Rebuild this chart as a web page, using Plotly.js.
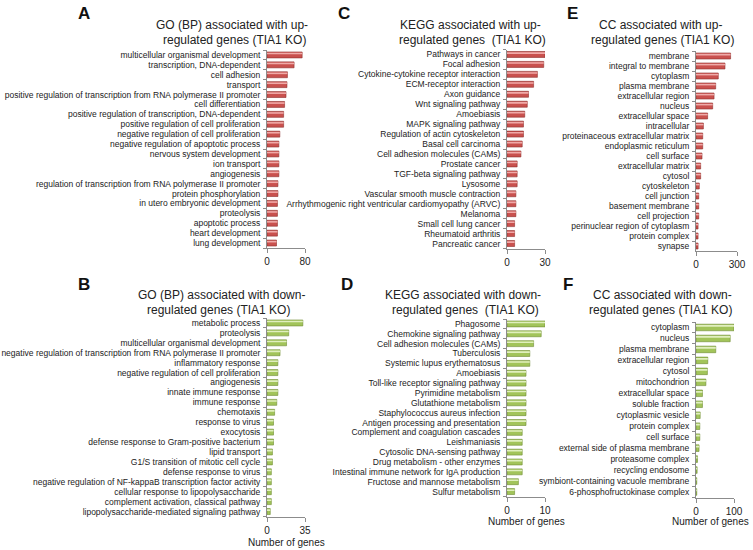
<!DOCTYPE html>
<html>
<head>
<meta charset="utf-8">
<script src="https://cdn.plot.ly/plotly-3.0.1.min.js"></script>
<style>
  html, body { margin: 0; padding: 0; background: #fff; }
  #chart { width: 753px; height: 550px; }
</style>
</head>
<body>
<div id="chart"></div>
<script>
// A: GO (BP) up-regulated
var bpUpTerms = ["multicellular organismal development", "transcription, DNA-dependent", "cell adhesion", "transport",
  "positive regulation of transcription from RNA polymerase II promoter", "cell differentiation",
  "positive regulation of transcription, DNA-dependent", "positive regulation of cell proliferation",
  "negative regulation of cell proliferation", "negative regulation of apoptotic process", "nervous system development",
  "ion transport", "angiogenesis", "regulation of transcription from RNA polymerase II promoter", "protein phosphorylation",
  "in utero embryonic development", "proteolysis", "apoptotic process", "heart development", "lung development"];
var bpUpCounts = [74, 57, 43, 42, 40, 37, 35, 35, 27, 25, 25, 25, 25, 23, 23, 22, 22, 22, 22, 20];

// C: KEGG up-regulated
var keggUpTerms = ["Pathways in cancer", "Focal adhesion", "Cytokine-cytokine receptor interaction", "ECM-receptor interaction",
  "Axon guidance", "Wnt signaling pathway", "Amoebiasis", "MAPK signaling pathway", "Regulation of actin cytoskeleton",
  "Basal cell carcinoma", "Cell adhesion molecules (CAMs)", "Prostate cancer", "TGF-beta signaling pathway", "Lysosome",
  "Vascular smooth muscle contraction", "Arrhythmogenic right ventricular cardiomyopathy (ARVC)", "Melanoma",
  "Small cell lung cancer", "Rheumatoid arthritis", "Pancreatic cancer"];
var keggUpCounts = [30, 29, 24, 21, 17, 16, 14, 13, 13, 12, 11, 8, 8, 8, 7, 7, 7, 6, 6, 6];

// E: CC up-regulated
var ccUpTerms = ["membrane", "integral to membrane", "cytoplasm", "plasma membrane", "extracellular region", "nucleus",
  "extracellular space", "intracellular", "proteinaceous extracellular matrix", "endoplasmic reticulum", "cell surface",
  "extracellular matrix", "cytosol", "cytoskeleton", "cell junction", "basement membrane", "cell projection",
  "perinuclear region of cytoplasm", "protein complex", "synapse"];
var ccUpCounts = [253, 212, 163, 144, 132, 122, 85, 54, 49, 49, 44, 34, 34, 24, 20, 20, 20, 15, 15, 15];

// B: GO (BP) down-regulated
var bpDownTerms = ["metabolic process", "proteolysis", "multicellular organismal development",
  "negative regulation of transcription from RNA polymerase II promoter", "inflammatory response",
  "negative regulation of cell proliferation", "angiogenesis", "innate immune response", "immune response", "chemotaxis",
  "response to virus", "exocytosis", "defense response to Gram-positive bacterium", "lipid transport",
  "G1/S transition of mitotic cell cycle", "defense response to virus",
  "negative regulation of NF-kappaB transcription factor activity", "cellular response to lipopolysaccharide",
  "complement activation, classical pathway", "lipopolysaccharide-mediated signaling pathway"];
var bpDownCounts = [33, 20, 18, 12, 10, 10, 10, 10, 9, 7, 6, 6, 6, 5, 5, 4, 4, 4, 4, 3];

// D: KEGG down-regulated
var keggDownTerms = ["Phagosome", "Chemokine signaling pathway", "Cell adhesion molecules (CAMs)", "Tuberculosis",
  "Systemic lupus erythematosus", "Amoebiasis", "Toll-like receptor signaling pathway", "Pyrimidine metabolism",
  "Glutathione metabolism", "Staphylococcus aureus infection", "Antigen processing and presentation",
  "Complement and coagulation cascades", "Leishmaniasis", "Cytosolic DNA-sensing pathway",
  "Drug metabolism - other enzymes", "Intestinal immune network for IgA production", "Fructose and mannose metabolism",
  "Sulfur metabolism"];
var keggDownCounts = [10, 9, 7, 6, 6, 5, 5, 5, 5, 5, 5, 4, 4, 4, 4, 4, 3, 2];

// F: CC down-regulated
var ccDownTerms = ["cytoplasm", "nucleus", "plasma membrane", "extracellular region", "cytosol", "mitochondrion",
  "extracellular space", "soluble fraction", "cytoplasmic vesicle", "protein complex", "cell surface",
  "external side of plasma membrane", "proteasome complex", "recycling endosome", "symbiont-containing vacuole membrane",
  "6-phosphofructokinase complex"];
var ccDownCounts = [100, 90, 52, 31, 30, 26, 17, 17, 11, 10, 10, 8, 4, 3, 2, 2];

var W = 753, H = 550;
var FONT = "Liberation Sans, Arial, sans-serif";
function px(x) { return x / W; }
function py(y) { return 1 - y / H; }

var red = {main: "#c9514e", light: "#f0aaa8", edge: "#8e2f2c"};
var green = {main: "#a2c45a", light: "#e0efbe", edge: "#6f8b32"};

// panel layout: axis box in pixels
var panels = [
  {terms: bpUpTerms, counts: bpUpCounts, max: 80, col: red, x: [267, 305], y: [50, 248]},
  {terms: keggUpTerms, counts: keggUpCounts, max: 30, col: red, x: [507, 545], y: [49.5, 248.5]},
  {terms: ccUpTerms, counts: ccUpCounts, max: 300, col: red, x: [696, 737], y: [51, 251]},
  {terms: bpDownTerms, counts: bpDownCounts, max: 35, col: green, x: [267, 305], y: [318, 516.5]},
  {terms: keggDownTerms, counts: keggDownCounts, max: 10, col: green, x: [507, 545], y: [319, 496.5]},
  {terms: ccDownTerms, counts: ccDownCounts, max: 100, col: green, x: [696, 734], y: [322, 497.5]}
];

var data = [];
var layout = {
  width: W, height: H,
  margin: {l: 0, r: 0, t: 0, b: 0},
  paper_bgcolor: "#fff", plot_bgcolor: "#fff",
  showlegend: false,
  barmode: "overlay",
  font: {family: FONT, color: "#222"},
  annotations: []
};

panels.forEach(function(p, i) {
  var n = i + 1;
  var xa = "x" + n, ya = "y" + n;
  // main bar
  data.push({
    type: "bar", orientation: "h", x: p.counts, y: p.terms,
    xaxis: xa, yaxis: ya, width: 0.6, offset: -0.3,
    marker: {color: p.col.main, line: {color: p.col.edge, width: 0.6}},
    hoverinfo: "x+y"
  });
  // highlight strip to mimic the shaded 3D bars
  data.push({
    type: "bar", orientation: "h", x: p.counts, y: p.terms,
    xaxis: xa, yaxis: ya, width: 0.16, offset: -0.22,
    marker: {color: p.col.light, line: {width: 0}},
    hoverinfo: "skip"
  });

  layout["xaxis" + (n === 1 ? "" : n)] = {
    domain: [px(p.x[0]), px(p.x[1])], anchor: ya,
    range: [0, p.max], tickmode: "array", tickvals: [0, p.max],
    showline: true, linecolor: "#8c8c8c", linewidth: 1,
    ticks: "outside", ticklen: 4, tickcolor: "#8c8c8c",
    showgrid: false, zeroline: false, fixedrange: true,
    tickfont: {family: FONT, size: 10, color: "#222"}
  };
  layout["yaxis" + (n === 1 ? "" : n)] = {
    domain: [py(p.y[1]), py(p.y[0])], anchor: xa,
    type: "category", categoryorder: "array", categoryarray: p.terms,
    range: [p.terms.length - 0.5, -0.5],
    tickmode: "array", tickvals: p.terms, ticktext: p.terms,
    showline: true, linecolor: "#8c8c8c", linewidth: 1,
    ticks: "outside", ticklen: 3, tickcolor: "#8c8c8c", tickson: "boundaries",
    ticklabelstandoff: 4,
    showgrid: false, zeroline: false, fixedrange: true,
    tickfont: {family: FONT, size: 8.5, color: "#222"}
  };
});

// panel letters, titles and axis titles
var letters = [["A", 84, 13], ["C", 344, 13], ["E", 572, 13], ["B", 84, 284], ["D", 347, 284], ["F", 568, 284]];
letters.forEach(function(l) {
  layout.annotations.push({text: "<b>" + l[0] + "</b>", x: px(l[1]), y: py(l[2]), xref: "paper", yref: "paper",
    xanchor: "center", yanchor: "middle", showarrow: false, font: {family: FONT, size: 17, color: "#111"}});
});

var titles = [
  ["GO (BP) associated with up-", 232, 25], ["regulated genes (TIA1 KO)", 234, 40],
  ["KEGG associated with up-", 470, 25], ["regulated genes  (TIA1 KO)", 472, 40],
  ["CC associated with up-", 660, 25], ["regulated genes (TIA1 KO)", 662, 40],
  ["GO (BP) associated with down-", 221, 295], ["regulated genes (TIA1 KO)", 218, 310],
  ["KEGG associated with down-", 463, 295], ["regulated genes  (TIA1 KO)", 465, 310],
  ["CC associated with down-", 662, 295], ["regulated genes (TIA1 KO)", 660, 310]
];
titles.forEach(function(t) {
  layout.annotations.push({text: t[0].replace(/  /g, " &nbsp;"), x: px(t[1]), y: py(t[2]), xref: "paper", yref: "paper",
    xanchor: "center", yanchor: "middle", showarrow: false, font: {family: FONT, size: 12, color: "#222"}});
});

var axisTitles = [[286, 542], [526, 521], [710, 521]];
axisTitles.forEach(function(a) {
  layout.annotations.push({text: "Number of genes", x: px(a[0]), y: py(a[1]), xref: "paper", yref: "paper",
    xanchor: "center", yanchor: "middle", showarrow: false, font: {family: FONT, size: 10, color: "#222"}});
});

Plotly.newPlot("chart", data, layout, {displayModeBar: false, staticPlot: true});
</script>
</body>
</html>
